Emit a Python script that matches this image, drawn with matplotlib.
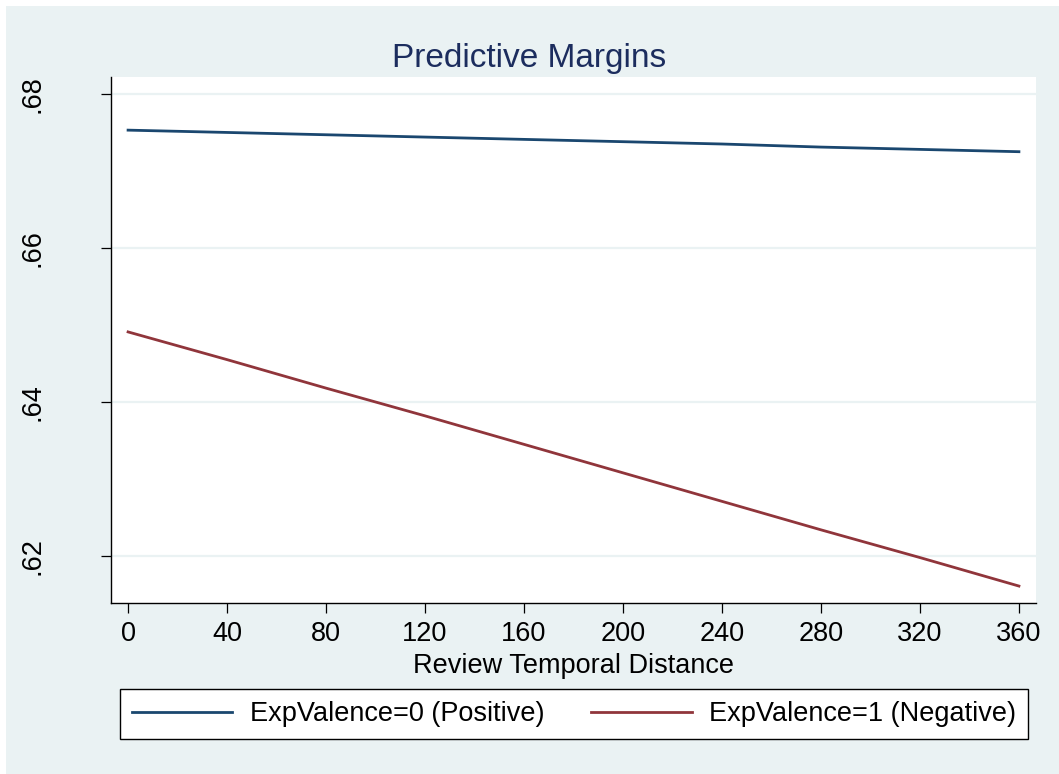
import numpy as np
import matplotlib.pyplot as plt
from matplotlib.patches import Rectangle

plt.rcParams['font.family'] = ['Liberation Sans', 'DejaVu Sans']

# predictive margins
distance = [0, 40, 80, 120, 160, 200, 240, 280, 320, 360]
positive = [0.6753, 0.6750, 0.6747, 0.6744, 0.6741, 0.6738, 0.6735, 0.6731, 0.6728, 0.6725]
negative = [0.6491, 0.6455, 0.6418, 0.6382, 0.6345, 0.6308, 0.6271, 0.6234, 0.6198, 0.6161]
labels = ['ExpValence=0 (Positive)', 'ExpValence=1 (Negative)']
yticks = [0.62, 0.64, 0.66, 0.68]
ytick_labels = ['.62', '.64', '.66', '.68']
xticks = list(range(0, 361, 40))

W, H = 1059, 774
bg = '#EAF2F3'
fig = plt.figure(figsize=(W / 100, H / 100), dpi=100, facecolor=bg)
# thin white strip on the top and left edges
fig.patches.append(Rectangle((0, (H - 6) / H), 1, 6 / H, transform=fig.transFigure,
                             facecolor='white', edgecolor='none'))
fig.patches.append(Rectangle((0, 0), 6 / W, 1, transform=fig.transFigure,
                             facecolor='white', edgecolor='none'))

ax = fig.add_axes([111 / W, 171 / H, 925 / W, 526 / H])
ax.set_facecolor('white')

ax.plot(distance, positive, color='#1A476F', lw=2.0, label=labels[0])
ax.plot(distance, negative, color='#90353B', lw=2.0, label=labels[1])

ax.set_xlim(-6.9, 366.9)
ax.set_ylim(0.6139, 0.6822)
ax.set_xticks(xticks)
ax.set_yticks(yticks)
ax.set_yticklabels(ytick_labels, rotation=90, va='center')
ax.yaxis.grid(True, color=bg, lw=1.6)
ax.set_axisbelow(True)

for s in ['top', 'right']:
    ax.spines[s].set_visible(False)
for s in ['left', 'bottom']:
    ax.spines[s].set_linewidth(1.0)
ax.tick_params(axis='both', direction='out', length=7.2, width=0.9, labelsize=19.5, colors='black')
ax.tick_params(axis='y', pad=40)
ax.tick_params(axis='x', pad=6)

ax.set_xlabel('Review Temporal Distance', fontsize=19.5, labelpad=4)

fig.text(529.5 / W, (H - 67) / H, 'Predictive Margins', ha='center', va='baseline',
         fontsize=24, color='#1C2D5E')

leg = fig.legend(loc='center', bbox_to_anchor=(574 / W, (H - 714) / H), ncol=2,
                 fontsize=19.5, handlelength=3.7, handletextpad=0.65, columnspacing=1.75,
                 borderpad=0.45, frameon=True, fancybox=False, framealpha=1)
leg.get_frame().set_edgecolor('black')
leg.get_frame().set_linewidth(1.0)

fig.savefig('out.png', dpi=100, facecolor=fig.get_facecolor())
